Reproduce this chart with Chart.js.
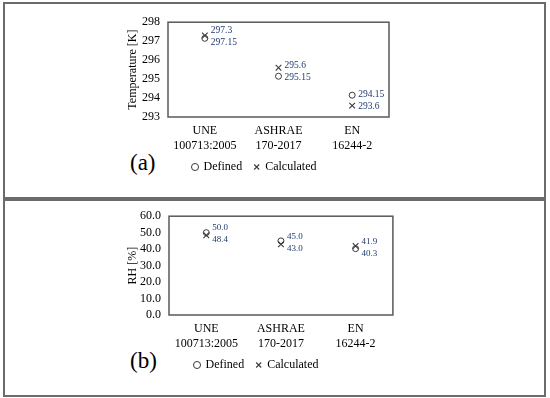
<!DOCTYPE html>
<html>
<head>
<meta charset="utf-8">
<script src="https://cdn.jsdelivr.net/npm/chart.js@4.4.0/dist/chart.umd.min.js"></script>
<style>
  body { margin: 0; background: #fff; width: 550px; height: 398px; position: relative; overflow: hidden; }
  .panel { position: absolute; left: 3px; width: 539px; border: 2px solid #6b6b6b; background: #fff; }
  .tag { position: absolute; font-family: 'Liberation Serif', serif; font-size: 23px; color: #000; }
  canvas { position: absolute; }
</style>
</head>
<body>
<div class="panel" style="top:2px;height:193px;"></div>
<div class="panel" style="top:199px;height:194px;"></div>
<div class="tag" style="left:130px;top:150px;">(a)</div>
<div class="tag" style="left:130px;top:348px;">(b)</div>
<div style="position:absolute;left:120px;top:7px;width:278px;height:176px;"><canvas id="chart1"></canvas></div>
<div style="position:absolute;left:120px;top:201px;width:278px;height:180px;"><canvas id="chart2"></canvas></div>
<script>
const categories = [['UNE', '100713:2005'], ['ASHRAE', '170-2017'], ['EN', '16244-2']];

const tempDefined = [297.15, 295.15, 294.15];
const tempCalculated = [297.3, 295.6, 293.6];
const tempTicks = [293, 294, 295, 296, 297, 298];

const rhDefined = [50.0, 45.0, 40.3];
const rhCalculated = [48.4, 43.0, 41.9];
const rhTicks = [0, 10, 20, 30, 40, 50, 60];

const serif = "'Liberation Serif', 'Times New Roman', serif";
const markColor = '#3a3a3a';
const valueColor = '#1f3a6e';

// box round the plot area
const frame = {
  id: 'frame',
  afterDraw(chart) {
    const { ctx, chartArea: a } = chart;
    ctx.save();
    ctx.strokeStyle = '#595959';
    ctx.lineWidth = 1.5;
    ctx.strokeRect(a.left, a.top, a.right - a.left, a.bottom - a.top);
    ctx.restore();
  }
};

// value labels: upper point's label above-right, lower one below-right
const valueLabels = {
  id: 'valueLabels',
  afterDatasetsDraw(chart, args, opts) {
    const { ctx } = chart;
    const m0 = chart.getDatasetMeta(0).data;
    const m1 = chart.getDatasetMeta(1).data;
    const d0 = chart.data.datasets[0].data;
    const d1 = chart.data.datasets[1].data;
    ctx.save();
    ctx.fillStyle = valueColor;
    ctx.font = opts.size + 'px ' + serif;
    ctx.textBaseline = 'middle';
    ctx.textAlign = 'left';
    for (let i = 0; i < m0.length; i++) {
      let up = { p: m0[i], v: d0[i] };
      let lo = { p: m1[i], v: d1[i] };
      if (up.p.y > lo.p.y) [up, lo] = [lo, up];
      const mid = (up.p.y + lo.p.y) / 2;
      const yu = Math.min(up.p.y, mid - opts.gap);
      const yl = Math.max(lo.p.y, mid + opts.gap);
      ctx.fillText(opts.fmt(up.v), up.p.x + 6, yu);
      ctx.fillText(opts.fmt(lo.v), lo.p.x + 6, yl);
    }
    ctx.restore();
  }
};

function makeChart(ctx, defined, calculated, ticks, title, fmt, pad, yWidth, labelSize) {
  return new Chart(ctx, {
    type: 'line',
    data: {
      labels: categories,
      datasets: [{
        label: 'Defined',
        data: defined,
        showLine: false,
        pointStyle: 'circle',
        pointRadius: 3,
        borderColor: markColor,
        backgroundColor: 'rgba(0,0,0,0)',
        borderWidth: 1
      }, {
        label: 'Calculated',
        data: calculated,
        showLine: false,
        pointStyle: 'crossRot',
        pointRadius: 4,
        borderColor: markColor,
        backgroundColor: 'rgba(0,0,0,0)',
        borderWidth: 1.1
      }]
    },
    options: {
      responsive: true,
      maintainAspectRatio: false,
      animation: false,
      layout: { padding: pad },
      plugins: {
        tooltip: { enabled: false },
        legend: {
          position: 'bottom',
          labels: {
            usePointStyle: true,
            boxWidth: 5,
            boxHeight: 5,
            padding: 12,
            color: '#000',
            font: { family: serif, size: 12 }
          }
        },
        valueLabels: { fmt, size: labelSize, gap: 6 }
      },
      scales: {
        x: {
          offset: true,
          grid: { display: false, drawTicks: false },
          border: { display: false },
          ticks: { color: '#000', padding: 7, font: { family: serif, size: 12 }, maxRotation: 0 },
          afterFit(s) { s.height = 32; }
        },
        y: {
          min: ticks[0],
          max: ticks[ticks.length - 1],
          afterBuildTicks(s) { s.ticks = ticks.map(v => ({ value: v })); },
          grid: { display: false, drawTicks: false },
          border: { display: false },
          ticks: {
            color: '#000',
            padding: 8,
            autoSkip: false,
            font: { family: serif, size: 12 },
            callback: v => (ticks[1] - ticks[0] >= 10 ? v.toFixed(1) : v)
          },
          title: { display: true, text: title, color: '#000', padding: { top: 6, bottom: 2 }, font: { family: serif, size: 12 } },
          afterFit(s) { s.width = yWidth; }
        }
      }
    },
    plugins: [frame, valueLabels]
  });
}

const chart1 = makeChart(document.getElementById('chart1').getContext('2d'),
  tempDefined, tempCalculated, tempTicks, 'Temperature [K]', v => String(v),
  { top: 0, right: 9, left: 0, bottom: 0 }, 48, 9.5);

const chart2 = makeChart(document.getElementById('chart2').getContext('2d'),
  rhDefined, rhCalculated, rhTicks, 'RH [%]', v => v.toFixed(1),
  { top: 0, right: 5, left: 0, bottom: 0 }, 49, 9);
</script>
</body>
</html>
